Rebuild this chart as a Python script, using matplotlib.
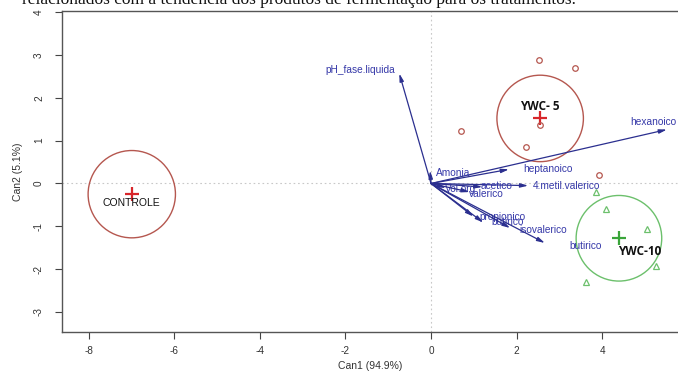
import matplotlib
matplotlib.use("Agg")
import matplotlib.pyplot as plt
from matplotlib.patches import Ellipse

# ---- data ----
groups = ["CONTROLE", "YWC- 5", "YWC-10"]
group_centers_x = [-6.99, 2.55, 4.39]
group_centers_y = [-0.25, 1.52, -1.28]
group_radius = [1.02, 1.01, 1.00]
group_label_x = [-6.99, 2.55, 4.88]
group_label_y = [-0.45, 1.80, -1.59]

ywc5_x = [2.52, 3.36, 0.70, 2.55, 2.22, 3.93]
ywc5_y = [2.88, 2.69, 1.22, 1.36, 0.85, 0.19]
ywc10_x = [3.85, 4.08, 5.04, 5.25, 3.62]
ywc10_y = [-0.20, -0.59, -1.06, -1.92, -2.30]

var_names = ["pH_fase.liquida", "hexanoico", "heptanoico", "Amonia", "4.metil.valerico",
             "Vol.org", "acetico", "valerico", "propionico", "butirico", "isovalerico", "butirico"]
var_tip_x = [-0.74, 5.51, 1.82, -0.02, 2.27, 0.35, 1.20, 0.90, 0.99, 1.22, 1.85, 2.66]
var_tip_y = [2.57, 1.26, 0.33, 0.30, -0.05, -0.10, -0.08, -0.20, -0.77, -0.91, -1.04, -1.39]
var_lab_x = [-1.66, 5.20, 2.73, 0.52, 3.17, 0.68, 1.53, 1.30, 1.68, 1.80, 2.62, 3.62]
var_lab_y = [2.65, 1.44, 0.35, 0.25, -0.07, -0.12, -0.07, -0.24, -0.79, -0.91, -1.08, -1.47]

xticks = [-8, -6, -4, -2, 0, 2, 4]
yticks = [-3, -2, -1, 0, 1, 2, 3, 4]

# ---- style ----
plt.rcParams['font.family'] = ['Liberation Sans', 'DejaVu Sans']
fig = plt.figure(figsize=(6.78, 3.78), dpi=100)
ax = fig.add_axes([62/678, 46/378, 1 - 62/678, (332-11)/378])

ax.set_xlim(-8.62, 5.77)
ax.set_ylim(-3.47, 4.03)

ax.axvline(0, color="#c8c8c8", lw=0.8, ls=(0, (1.5, 2.5)), zorder=0)
ax.axhline(0, color="#c8c8c8", lw=0.8, ls=(0, (1.5, 2.5)), zorder=0)

brown = "#b5574f"
green = "#6cc06c"
cross_red = "#d8262b"
cross_green = "#3aa53a"
circ_colors = [brown, brown, green]
cross_colors = [cross_red, cross_red, cross_green]
label_fonts = [('Liberation Sans', 'normal', 7.5), ('Open Sans', 'bold', 8.5), ('Open Sans', 'bold', 8.5)]

for i in range(len(groups)):
    ax.add_patch(Ellipse((group_centers_x[i], group_centers_y[i]), 2*group_radius[i], 2*group_radius[i],
                         fill=False, ec=circ_colors[i], lw=1.0))
    ax.plot(group_centers_x[i], group_centers_y[i], marker='+', ms=10, mew=1.6,
            color=cross_colors[i], ls='none')
    fam, wt, sz = label_fonts[i]
    ax.text(group_label_x[i], group_label_y[i], groups[i], ha='center', va='center',
            fontsize=sz, fontweight=wt, family=fam, color="#111111")

ax.plot(ywc5_x, ywc5_y, ls='none', marker='o', ms=4, mfc='none', mec=brown, mew=0.9)
ax.plot(ywc10_x, ywc10_y, ls='none', marker='^', ms=5, mfc='none', mec=green, mew=0.9)

arrow_col = "#2b2f8f"
text_col = "#3538a8"
for i in range(len(var_names)):
    ax.annotate("", xy=(var_tip_x[i], var_tip_y[i]), xytext=(0, 0),
                arrowprops=dict(arrowstyle="-|>,head_length=0.45,head_width=0.12",
                                color=arrow_col, lw=0.9, shrinkA=0, shrinkB=0))
    ax.text(var_lab_x[i], var_lab_y[i], var_names[i], ha='center', va='center',
            fontsize=7.3, color=text_col)

ax.set_xticks(xticks)
ax.set_yticks(yticks)
ax.set_xticklabels([str(v) for v in xticks])
ax.set_yticklabels([str(v) for v in yticks], rotation=90, va='center')
ax.tick_params(axis='both', labelsize=7.2, color="#444444", labelcolor="#333333",
               length=5, width=0.8, pad=5)
ax.tick_params(axis='y', pad=8)
for s in ['left', 'bottom', 'top']:
    ax.spines[s].set_color("#555555")
    ax.spines[s].set_linewidth(1.0)
ax.spines['right'].set_visible(False)

ax.set_xlabel("Can1 (94.9%)", fontsize=7.5, color="#333333", labelpad=4)
ax.set_ylabel("Can2 (5.1%)", fontsize=7.5, color="#333333", labelpad=8)

fig.text(22/678, 1 - 4/378, "relacionados com a tendência dos produtos de fermentação para os tratamentos.",
         family=['Liberation Serif', 'DejaVu Serif'], fontsize=12.5, ha='left', va='baseline', color="#111111")

fig.savefig("out.png", dpi=100)
